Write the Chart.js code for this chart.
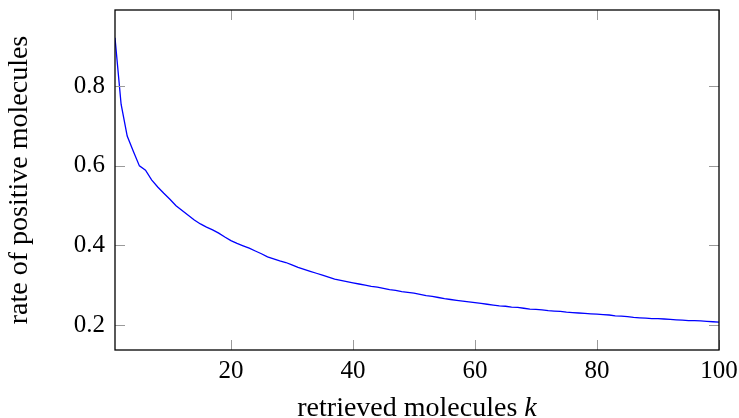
<!DOCTYPE html>
<html>
<head>
<meta charset="utf-8">
<script src="https://cdn.jsdelivr.net/npm/chart.js@4"></script>
<style>
  html, body { margin: 0; padding: 0; background: #fff; }
  #wrap { width: 739px; height: 418px; position: relative; }
</style>
</head>
<body>
<div id="wrap"><canvas id="rateChart"></canvas></div>
<script>
// retrieved molecules k = 1..100
const kValues = Array.from({ length: 100 }, (_, i) => i + 1);

// rate of positive molecules
const rateValues = [
  0.922, 0.755, 0.675, 0.637, 0.600, 0.589, 0.565, 0.547, 0.531, 0.516,
  0.500, 0.488, 0.476, 0.464, 0.454, 0.446, 0.439, 0.431, 0.421, 0.412,
  0.405, 0.399, 0.393, 0.386, 0.379, 0.371, 0.366, 0.361, 0.357, 0.351,
  0.345, 0.340, 0.335, 0.330, 0.325, 0.320, 0.315, 0.312, 0.309, 0.306,
  0.303, 0.300, 0.297, 0.295, 0.292, 0.289, 0.287, 0.284, 0.282, 0.280,
  0.277, 0.274, 0.272, 0.269, 0.266, 0.264, 0.262, 0.260, 0.258, 0.256,
  0.254, 0.252, 0.250, 0.248, 0.247, 0.245, 0.244, 0.242, 0.240, 0.239,
  0.238, 0.236, 0.235, 0.234, 0.232, 0.231, 0.230, 0.229, 0.228, 0.227,
  0.226, 0.225, 0.223, 0.222, 0.221, 0.219, 0.218, 0.217, 0.216, 0.216,
  0.215, 0.214, 0.213, 0.212, 0.211, 0.211, 0.210, 0.209, 0.208, 0.207
];

const xTicks = [20, 40, 60, 80, 100];
const yTicks = [0.2, 0.4, 0.6, 0.8];

const serif = "'Liberation Serif', 'DejaVu Serif', serif";

// frame + inward ticks on all four sides, pgfplots style
const framePlugin = {
  id: 'frame',
  afterDraw(chart) {
    const { ctx, chartArea: a, scales } = chart;
    const len = 10;
    ctx.save();
    ctx.strokeStyle = '#9a9a9a';
    ctx.lineWidth = 1;
    ctx.beginPath();
    xTicks.forEach((v) => {
      const px = Math.round(scales.x.getPixelForValue(v)) + 0.5;
      ctx.moveTo(px, a.bottom); ctx.lineTo(px, a.bottom - len);
      ctx.moveTo(px, a.top); ctx.lineTo(px, a.top + len);
    });
    yTicks.forEach((v) => {
      const py = Math.round(scales.y.getPixelForValue(v)) + 0.5;
      ctx.moveTo(a.left, py); ctx.lineTo(a.left + len, py);
      ctx.moveTo(a.right, py); ctx.lineTo(a.right - len, py);
    });
    ctx.stroke();
    ctx.strokeStyle = '#000';
    ctx.lineWidth = 1.3;
    ctx.strokeRect(a.left, a.top, a.right - a.left, a.bottom - a.top);

    // x axis title with italic k
    const main = 'retrieved molecules ';
    ctx.fillStyle = '#000';
    ctx.textBaseline = 'alphabetic';
    ctx.font = '28px ' + serif;
    const w1 = ctx.measureText(main).width;
    ctx.font = 'italic 28px ' + serif;
    const w2 = ctx.measureText('k').width;
    const x0 = (a.left + a.right) / 2 - (w1 + w2) / 2;
    ctx.font = '28px ' + serif;
    ctx.fillText(main, x0, 416);
    ctx.font = 'italic 28px ' + serif;
    ctx.fillText('k', x0 + w1, 416);
    ctx.restore();
  }
};

const ctx = document.getElementById('rateChart').getContext('2d');
new Chart(ctx, {
  type: 'line',
  data: {
    datasets: [
      {
        label: 'rate of positive molecules',
        data: kValues.map((k, i) => ({ x: k, y: rateValues[i] })),
        borderColor: '#0000ff',
        borderWidth: 1.3,
        pointRadius: 0,
        tension: 0,
        fill: false,
      },
    ],
  },
  options: {
    responsive: true,
    maintainAspectRatio: false,
    animation: false,
    layout: { padding: { top: 10, right: 20, left: 0, bottom: 0 } },
    plugins: {
      legend: { display: false },
      tooltip: { enabled: false },
    },
    scales: {
      x: {
        type: 'linear',
        min: 1,
        max: 100,
        afterBuildTicks: (scale) => { scale.ticks = xTicks.map((v) => ({ value: v })); },
        afterFit: (scale) => {
          scale.height = 68;
          scale.paddingLeft = 0;
          scale.paddingRight = 0;
        },
        grid: { display: false, drawTicks: false },
        border: { display: false },
        ticks: {
          autoSkip: false,
          maxRotation: 0,
          padding: 6,
          color: '#000',
          font: { family: serif, size: 25 },
        },
      },
      y: {
        type: 'linear',
        min: 0.137,
        max: 0.992,
        afterBuildTicks: (scale) => { scale.ticks = yTicks.map((v) => ({ value: v })); },
        afterFit: (scale) => {
          scale.width = 115;
          scale.paddingTop = 0;
          scale.paddingBottom = 0;
        },
        grid: { display: false, drawTicks: false },
        border: { display: false },
        ticks: {
          padding: 10,
          color: '#000',
          font: { family: serif, size: 25 },
          callback: (v) => v.toFixed(1),
        },
        title: {
          display: true,
          text: 'rate of positive molecules',
          color: '#000',
          padding: { top: 6, bottom: 0 },
          font: { family: serif, size: 28, lineHeight: 1 },
        },
      },
    },
  },
  plugins: [framePlugin],
});
</script>
</body>
</html>
